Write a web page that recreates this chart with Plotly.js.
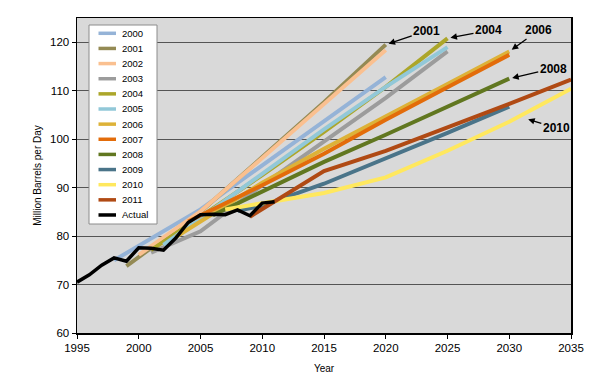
<!DOCTYPE html>
<html><head><meta charset="utf-8">
<script src="https://cdn.plot.ly/plotly-3.0.1.min.js"></script>
<style>html,body{margin:0;padding:0;background:#fff}#chart{width:596px;height:376px}</style>
</head><body><div id="chart"></div>
<script>
// ---------- data ----------
const seriesNames = ['2000','2001','2002','2003','2004','2005','2006','2007','2008','2009','2010','2011','Actual'];

const yr2000 = [1998, 2005, 2010, 2015, 2020];
const val2000 = [75.0, 85.5, 94.6, 103.7, 112.8];
const yr2001 = [1999, 2005, 2010, 2015, 2020];
const val2001 = [73.8, 85.0, 96.3, 107.6, 119.5];
const yr2002 = [2000, 2005, 2010, 2015, 2020];
const val2002 = [76.1, 85.1, 96.1, 107.3, 118.4];
const yr2003 = [2001, 2005, 2010, 2015, 2020, 2025];
const val2003 = [76.6, 81.0, 90.5, 99.5, 108.5, 118.1];
const yr2004 = [2001, 2010, 2015, 2020, 2025];
const val2004 = [77.1, 92.6, 101.5, 110.8, 120.8];
const yr2005 = [2002, 2010, 2015, 2020, 2025];
const val2005 = [78.2, 93.0, 102.0, 110.8, 119.0];
const yr2006 = [2003, 2010, 2015, 2020, 2025, 2030];
const val2006 = [79.8, 91.0, 98.0, 104.8, 111.4, 118.1];
const yr2007 = [2004, 2010, 2015, 2020, 2025, 2030];
const val2007 = [83.0, 90.5, 97.0, 104.0, 110.7, 117.4];
const yr2008 = [2006, 2010, 2015, 2020, 2025, 2030];
const val2008 = [84.3, 89.2, 95.3, 100.9, 106.6, 112.5];
const yr2009 = [2008, 2010, 2015, 2020, 2025, 2030];
const val2009 = [85.2, 86.3, 90.8, 96.0, 101.3, 106.7];
const yr2010 = [2007, 2010, 2015, 2020, 2025, 2030, 2035];
const val2010 = [85.5, 86.7, 88.9, 92.1, 97.6, 103.6, 110.4];
const yr2011 = [2009, 2015, 2020, 2025, 2030, 2035];
const val2011 = [84.0, 93.4, 97.6, 102.4, 107.3, 112.3];
const yrActual = [1995,1996,1997,1998,1999,2000,2001,2002,2003,2004,2005,2006,2007,2008,2009,2010,2011];
const valActual = [70.5,72.0,74.0,75.5,74.8,77.6,77.5,77.1,79.6,82.8,84.4,84.5,84.4,85.4,84.2,86.8,87.1];

const xTicks = [1995,2000,2005,2010,2015,2020,2025,2030,2035];
const yTicks = [60,70,80,90,100,110,120];

const calloutLabels = ['2001','2004','2006','2008','2010'];

// ---------- styles ----------
const seriesColors = ['#95B3D7','#948A54','#FAC090','#9C9C9C','#ACA62A','#92C8D8','#DDB238','#E36C0A','#617720','#4A7489','#FFE85E','#B04A14','#000000'];
const FONT = 'Liberation Sans, Arial, sans-serif';

const xs = [yr2000,yr2001,yr2002,yr2003,yr2004,yr2005,yr2006,yr2007,yr2008,yr2009,yr2010,yr2011,yrActual];
const ys = [val2000,val2001,val2002,val2003,val2004,val2005,val2006,val2007,val2008,val2009,val2010,val2011,valActual];

const traces = seriesNames.map((n,i)=>({
  type:'scatter', mode:'lines', name:n, x:xs[i], y:ys[i],
  line:{color:seriesColors[i], width: i===12 ? 3.5 : 4},
  showlegend:false, hoverinfo:'skip'
}));

// geometry
const W=596, H=376, ML=77, MR=25, MT=18, MB=43;
const PW=W-ML-MR, PH=H-MT-MB;
const px2x = p => (p-ML)/PW;
const py2y = p => (H-MB-p)/PH;

// custom legend
const shapes = [{type:'rect', xref:'paper', yref:'paper', x0:px2x(89), x1:px2x(157), y0:py2y(224), y1:py2y(25),
  fillcolor:'#FFFFFF', line:{color:'#8C8C8C', width:1}, layer:'above'}];
const annotations = [];
seriesNames.forEach((n,i)=>{
  const py = 33.3 + i*15.14;
  shapes.push({type:'line', xref:'paper', yref:'paper', x0:px2x(98.5), x1:px2x(116), y0:py2y(py), y1:py2y(py),
    line:{color:seriesColors[i], width:3.5}, layer:'above'});
  annotations.push({xref:'paper', yref:'paper', x:px2x(120), y:py2y(py), text:n, showarrow:false,
    xanchor:'left', yanchor:'middle', font:{family:FONT, size:9.5, color:'#000'}});
});

// callouts: anchored at series end points, text offset in pixels
const calloutAnchors = [
  [yr2001[yr2001.length-1], val2001[val2001.length-1], 41, -14],
  [yr2004[yr2004.length-1], val2004[val2004.length-1], 41, -8],
  [yr2006[yr2006.length-1], val2006[val2006.length-1], 29, -21],
  [yr2008[yr2008.length-1], val2008[val2008.length-1], 44, -10],
  [2031.3, 104.3, 31, 10]
];
calloutLabels.forEach((t,i)=>{
  const a = calloutAnchors[i];
  annotations.push({x:a[0], y:a[1], xref:'x', yref:'y', text:'<b>'+t+'</b>', showarrow:true,
    ax:a[2], ay:a[3], axref:'pixel', ayref:'pixel', arrowhead:2, arrowsize:1, arrowwidth:1.3,
    arrowcolor:'#000', standoff:3, font:{family:FONT, size:12, color:'#000'}, borderpad:1});
});

const layout = {
  width:W, height:H, margin:{l:ML, r:MR, t:MT, b:MB},
  paper_bgcolor:'#FFFFFF', plot_bgcolor:'#D9D9D9',
  showlegend:false,
  xaxis:{range:[1995,2035], tickvals:xTicks, ticktext:xTicks.map(String), ticks:'outside', ticklen:4, tickwidth:1, tickcolor:'#000',
    showline:true, linecolor:'#000', linewidth:1.5, mirror:true, showgrid:false, zeroline:false,
    tickfont:{family:FONT, size:11.5, color:'#000'},
    title:{text:'Year', font:{family:FONT, size:10, color:'#000'}, standoff:11}},
  yaxis:{range:[60,125], tickvals:yTicks, ticktext:yTicks.map(String), ticks:'outside', ticklen:4, tickwidth:1, tickcolor:'#000',
    showline:true, linecolor:'#000', linewidth:1.5, mirror:true, showgrid:true, gridcolor:'#555555', gridwidth:1, zeroline:false,
    tickfont:{family:FONT, size:11.5, color:'#000'},
    title:{text:'Million Barrels per Day', font:{family:FONT, size:10, color:'#000'}, standoff:6}},
  shapes:shapes, annotations:annotations
};

Plotly.newPlot('chart', traces, layout, {displayModeBar:false, staticPlot:true});
</script></body></html>
